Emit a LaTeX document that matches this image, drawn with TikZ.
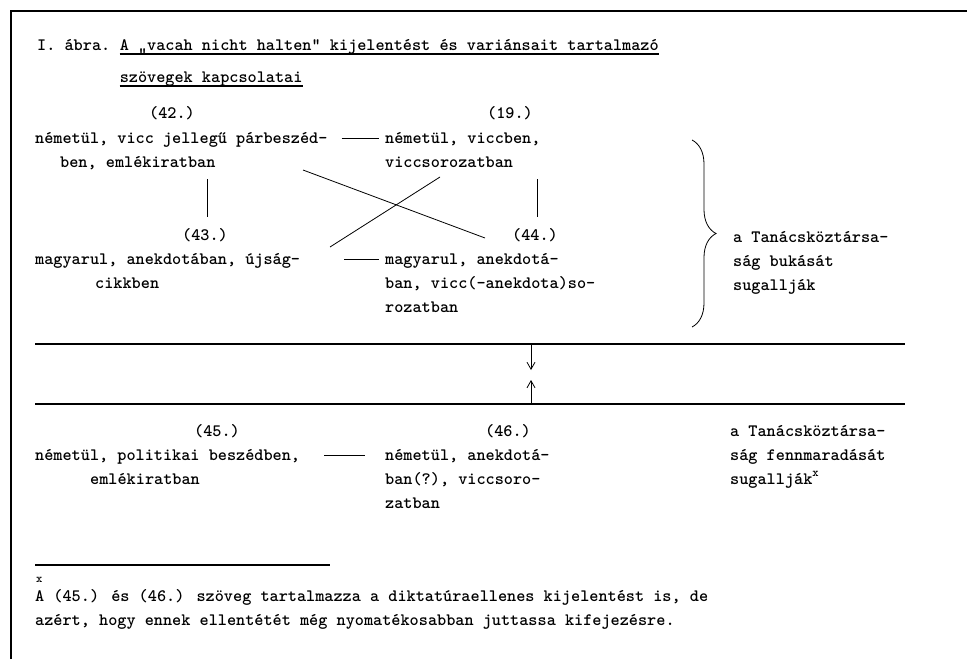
\documentclass[tikz,border=0pt]{standalone}
\usetikzlibrary{calc, arrows.meta, decorations.pathreplacing}

\newcommand{\typed}{\ttfamily\bfseries\fontsize{17.4}{24}\selectfont}

\begin{document}
\begin{tikzpicture}[x=1pt, y=-1pt,
  txt/.style={anchor=base west, inner sep=0pt, font=\typed},
  num/.style={anchor=base, inner sep=0pt, font=\typed},
  rule/.style={line width=1.1pt},
  link/.style={line width=0.8pt},
  uline/.style={line width=1.2pt}]
  \useasboundingbox (0,0) rectangle (967,659);

  % Frame
  \draw[line width=1.6pt] (11,659) -- (11,11) -- (967,11);

  % Title
  \node[txt] (ttlA) at (37,50) {I. ábra.};
  \node[txt] (ttlB) at ($(ttlA.base east)+(9.1,0)$) {A „vacah nicht halten" kijelentést és variánsait tartalmazó};
  \node[txt] (ttlC) at ($(ttlB.base west)+(0,32)$) {szövegek kapcsolatai};
  \draw[uline] ($(ttlB.base west)+(0,4)$) -- ($(ttlB.base east)+(0,4)$);
  \draw[uline] ($(ttlC.base west)+(0,4)$) -- ($(ttlC.base east)+(0,4)$);

  % Upper block, left
  \node[num] (n42) at (172,118) {(42.)};
  \node[txt] (t42a) at (35,143) {németül, vicc jellegű párbeszéd-};
  \node[txt] (t42b) at (60,167) {ben, emlékiratban};
  \node[num] (n43) at (205,240) {(43.)};
  \node[txt] (t43a) at (35,264) {magyarul, anekdotában, újság-};
  \node[txt] (t43b) at (95,288) {cikkben};

  % Upper block, right
  \node[num] (n19) at (510,118) {(19.)};
  \node[txt] (t19a) at (385,143) {németül, viccben,};
  \node[txt] (t19b) at (385,167) {viccsorozatban};
  \node[num] (n44) at (535,240) {(44.)};
  \node[txt] (t44a) at (385,264) {magyarul, anekdotá-};
  \node[txt] (t44b) at (385,288) {ban, vicc(-anekdota)so-};
  \node[txt] (t44c) at (385,312) {rozatban};

  % Links
  \draw[link] ($(t42a.base east)+(14,-5)$) -- ($(t19a.base west)+(-6,-5)$);
  \draw[link] ($(t43a.base east)+(44,-5)$) -- ($(t44a.base west)+(-6,-5)$);
  \draw[link, shorten <=11pt, shorten >=12pt] ($(n43.north)+(2,0)$) -- ($(n43.north |- t42b.base)+(2,0)$);
  \draw[link, shorten <=11pt, shorten >=12pt] ($(n44.north)+(2,0)$) -- ($(n44.north |- t19b.base)+(2,0)$);
  \coordinate (xa1) at (303,170);
  \coordinate (xa2) at (485,238);
  \coordinate (xb1) at (330,247);
  \coordinate (xb2) at (440,177);
  \draw[link] (xa1) -- (xa2);
  \draw[link] (xb1) -- (xb2);

  % Brace and label
  \draw[link, decorate, decoration={brace, amplitude=24pt}] (692,140) -- (692,327);
  \node[txt] (lab1a) at (733,242) {a Tanácsköztársa-};
  \node[txt] (lab1b) at (733,266) {ság bukását};
  \node[txt] (lab1c) at (733,290) {sugallják};

  % Rules with arrows
  \coordinate (r1w) at (35,344);
  \coordinate (r1e) at (905,344);
  \coordinate (r2w) at (35,404);
  \coordinate (r2e) at (905,404);
  \draw[rule] (r1w) -- (r1e);
  \draw[rule] (r2w) -- (r2e);
  \coordinate (dn) at (531,344);
  \coordinate (dnend) at (531,370);
  \coordinate (up) at (531,404);
  \coordinate (upend) at (531,380);
  \draw[link, -{Straight Barb[length=7pt, width=8pt]}] (dn) -- (dnend);
  \draw[link, -{Straight Barb[length=7pt, width=8pt]}] (up) -- (upend);

  % Lower block
  \node[num] (n45) at (217,436) {(45.)};
  \node[txt] (t45a) at (35,460) {németül, politikai beszédben,};
  \node[txt] (t45b) at (90,484) {emlékiratban};
  \node[num] (n46) at (508,436) {(46.)};
  \node[txt] (t46a) at (385,460) {németül, anekdotá-};
  \node[txt] (t46b) at (385,484) {ban(?), viccsoro-};
  \node[txt] (t46c) at (385,508) {zatban};
  \draw[link] ($(t45a.base east)+(24,-5)$) -- ($(t46a.base west)+(-20,-5)$);
  \node[txt] (lab2a) at (730,436) {a Tanácsköztársa-};
  \node[txt] (lab2b) at (730,460) {ság fennmaradását};
  \node[txt] (lab2c) at (730,484) {sugallják\raisebox{1ex}{\fontsize{12}{12}\selectfont x}};

  % Footnote
  \draw[rule] (35,565) -- (330,565);
  \node[txt] (fnmark) at (36,582) {\fontsize{12}{12}\selectfont x};
  \node[txt] (fn1) at (35,601) {A (45.)  és  (46.)  szöveg tartalmazza a diktatúraellenes kijelentést is, de};
  \node[txt] (fn2) at (35,625) {azért, hogy ennek ellentétét még nyomatékosabban juttassa kifejezésre.};
\end{tikzpicture}
\end{document}
